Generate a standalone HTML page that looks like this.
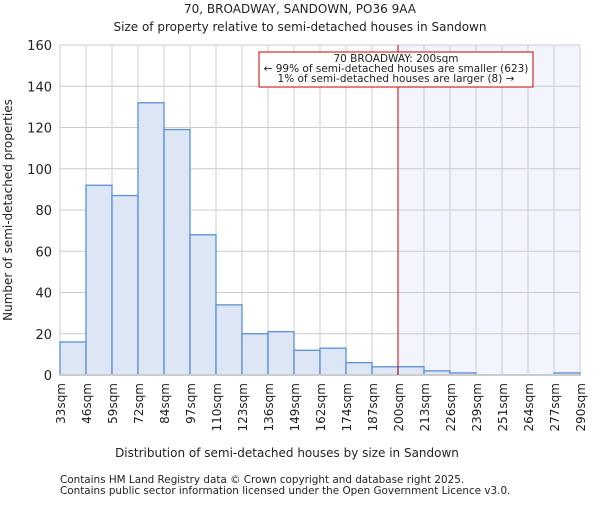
<!DOCTYPE html>
<html><head><meta charset="utf-8"><style>
body{margin:0;background:#fff;}
svg text{font-family:"DejaVu Sans","Liberation Sans",sans-serif;fill:#222;}
</style></head><body>
<svg id="c" width="600" height="500" xmlns="http://www.w3.org/2000/svg">
<text x="300" y="13" font-size="12" text-anchor="middle">70, BROADWAY, SANDOWN, PO36 9AA</text>
<text x="300" y="31" font-size="12" text-anchor="middle">Size of property relative to semi-detached houses in Sandown</text>
<g id="plot"></g>
<text x="287" y="457" font-size="12" text-anchor="middle">Distribution of semi-detached houses by size in Sandown</text>
<text transform="translate(12,210) rotate(-90)" font-size="12" text-anchor="middle">Number of semi-detached properties</text>
<text x="60" y="483" font-size="10.4">Contains HM Land Registry data © Crown copyright and database right 2025.</text>
<text x="60" y="494" font-size="10.4">Contains public sector information licensed under the Open Government Licence v3.0.</text>
</svg>
<script>
const categories=["33sqm","46sqm","59sqm","72sqm","84sqm","97sqm","110sqm","123sqm","136sqm","149sqm","162sqm","174sqm","187sqm","200sqm","213sqm","226sqm","239sqm","251sqm","264sqm","277sqm","290sqm"];
const counts=[16,92,87,132,119,68,34,20,21,12,13,6,4,4,2,1,0,0,0,1];
const yTicks=[0,20,40,60,80,100,120,140,160];
const markerIndex=13;
const NS="http://www.w3.org/2000/svg";
const L=60,R=580,T=45,B=375,nb=counts.length,bw=(R-L)/nb;
const x=i=>L+i*bw, y=v=>B-(v/160)*(B-T);
const g=document.getElementById('plot');
function mk(t,a){const e=document.createElementNS(NS,t);for(const k in a)e.setAttribute(k,a[k]);g.appendChild(e);return e;}
let e=mk('rect',{x:x(markerIndex),y:T,width:R-x(markerIndex),height:B-T,fill:'#f2f5fd'});


yTicks.forEach(v=>{
 let l=mk('line',{x1:L,x2:R,y1:y(v),y2:y(v),stroke:'#cccccc','stroke-width':1});
 
 
 let t=mk('text',{x:L-8,y:y(v)+5,'font-size':13,'text-anchor':'end'});t.textContent=v;
 
 
});
for(let i=0;i<=nb;i++){
 let l=mk('line',{x1:x(i),x2:x(i),y1:T,y2:B,stroke:'#cccccc','stroke-width':1});
 
 
}
counts.forEach((c,i)=>{
 if(c<=0)return;
 let r=mk('rect',{x:x(i),y:y(c),width:bw,height:B-y(c),fill:'#dce6f4',stroke:'#5b8fd6','stroke-width':1.3});
 
 
});
categories.forEach((c,i)=>{
 let t=mk('text',{'font-size':12,'text-anchor':'end',transform:`translate(${x(i)+5},${B+8}) rotate(-90)`});t.textContent=c;
 
 
});
let ax=mk('line',{x1:L,x2:R,y1:B,y2:B,stroke:'#cccccc','stroke-width':2});


let ml=mk('line',{x1:x(markerIndex),x2:x(markerIndex),y1:T,y2:B,stroke:'#cc0000','stroke-width':1});


let bx=mk('rect',{x:259,y:52,width:274,height:35,fill:'#fff',stroke:'#cc0000','stroke-width':1});


["70 BROADWAY: 200sqm","← 99% of semi-detached houses are smaller (623)","1% of semi-detached houses are larger (8) →"].forEach((s,i)=>{
 let t=mk('text',{x:396,y:62+i*10,'font-size':10.5,'text-anchor':'middle'});t.textContent=s;
 
 
});
</script>
</body></html>
